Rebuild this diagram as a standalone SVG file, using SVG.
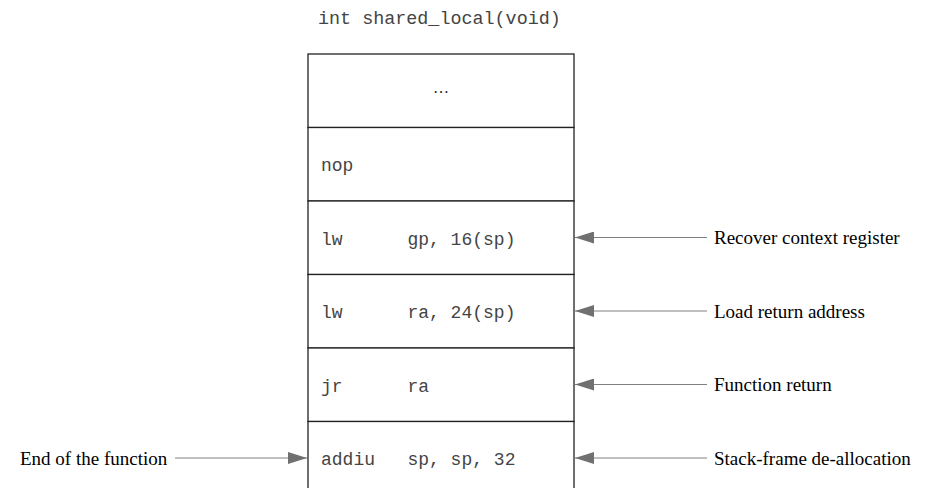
<svg xmlns="http://www.w3.org/2000/svg" width="925" height="488" viewBox="0 0 925 488">
<defs>
<marker id="ah" markerWidth="20" markerHeight="12" refX="19" refY="6" orient="auto" markerUnits="userSpaceOnUse">
<path d="M0,0 L19,6 L0,12 Z" fill="#707070"/>
</marker>
<style>
.code{font-family:"Liberation Mono","Courier New",monospace;font-size:18px;fill:#444;}
.lbl{font-family:"Liberation Serif","Times New Roman",serif;font-size:19px;fill:#000;}
.cell{fill:#fff;stroke:#222;stroke-width:1.3;}
.conn{stroke:#808080;stroke-width:1.2;fill:none;}
</style>
</defs>
<rect width="925" height="488" fill="#fff"/>
<text class="code" x="318" y="24" style="font-size:18.4px">int shared_local(void)</text>
<g id="row-ellipsis"><rect class="cell" x="308" y="54" width="266" height="73.5"/><text x="441" y="93" text-anchor="middle" style="font-family:'Liberation Serif',serif;font-size:16px;fill:#222">…</text></g>
<g id="row-nop"><rect class="cell" x="308" y="127.5" width="266" height="73.5"/><text class="code" x="321" y="171">nop</text></g>
<g id="row-lw-gp"><rect class="cell" x="308" y="201" width="266" height="73.5"/><text class="code" x="321" y="245" xml:space="preserve">lw      gp, 16(sp)</text></g>
<g id="row-lw-ra"><rect class="cell" x="308" y="274.5" width="266" height="73.5"/><text class="code" x="321" y="318" xml:space="preserve">lw      ra, 24(sp)</text></g>
<g id="row-jr"><rect class="cell" x="308" y="348" width="266" height="73.5"/><text class="code" x="321" y="392" xml:space="preserve">jr      ra</text></g>
<g id="row-addiu"><rect class="cell" x="308" y="421.5" width="266" height="80"/><text class="code" x="321" y="465" xml:space="preserve">addiu   sp, sp, 32</text></g>
<g id="connectors">
<line class="conn" x1="707" y1="237.5" x2="575" y2="237.5" marker-end="url(#ah)"/>
<line class="conn" x1="707" y1="311" x2="575" y2="311" marker-end="url(#ah)"/>
<line class="conn" x1="707" y1="384.5" x2="575" y2="384.5" marker-end="url(#ah)"/>
<line class="conn" x1="707" y1="458" x2="575" y2="458" marker-end="url(#ah)"/>
<line class="conn" x1="175" y1="458" x2="307" y2="458" marker-end="url(#ah)"/>
</g>
<g id="label-recover"><text class="lbl" x="714" y="244">Recover context register</text></g>
<g id="label-load"><text class="lbl" x="714" y="317.5">Load return address</text></g>
<g id="label-return"><text class="lbl" x="714" y="391">Function return</text></g>
<g id="label-dealloc"><text class="lbl" x="714" y="464.5">Stack-frame de-allocation</text></g>
<g id="label-end"><text class="lbl" x="20" y="464.5">End of the function</text></g>
</svg>
